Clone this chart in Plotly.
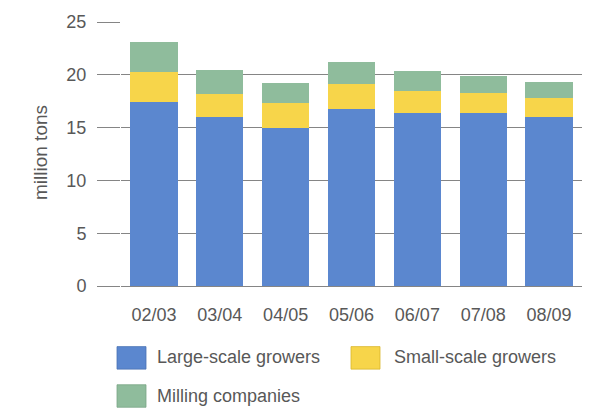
import plotly.graph_objects as go

# Sugar cane production by supplier group, million tons
seasons = ["02/03", "03/04", "04/05", "05/06", "06/07", "07/08", "08/09"]
large_scale = [17.4, 16.0, 15.0, 16.8, 16.4, 16.4, 16.0]
small_scale = [2.9, 2.2, 2.3, 2.35, 2.05, 1.85, 1.8]
milling = [2.85, 2.3, 1.9, 2.05, 1.95, 1.6, 1.55]

series_names = ["Large-scale growers", "Small-scale growers", "Milling companies"]
series_colors = ["#5b87cf", "#f7d54a", "#8fbc9c"]
series_edges = ["#4a72b4", "#d9b62c", "#78a585"]

y_ticks = [0, 5, 10, 15, 20, 25]

W, H = 594, 412
M_L, M_R, M_T, M_B = 121, 12, 16, 126
PW = W - M_L - M_R
PH = H - M_T - M_B
TEXT = "#585858"
FONT = "Liberation Sans, Arial, Helvetica, sans-serif"


def px_x(x):
    return (x - M_L) / PW


def px_y(y):
    return (H - M_B - y) / PH


fig = go.Figure()
for name, vals, col in zip(series_names, [large_scale, small_scale, milling], series_colors):
    fig.add_trace(go.Bar(x=seasons, y=vals, name=name, marker=dict(color=col, line=dict(width=0)),
                         showlegend=False))

fig.update_layout(
    width=W, height=H,
    margin=dict(l=M_L, r=M_R, t=M_T, b=M_B),
    barmode="stack", bargap=0.28,
    plot_bgcolor="white", paper_bgcolor="white",
    font=dict(family=FONT, color=TEXT, size=18),
    xaxis=dict(showgrid=False, showline=False, ticks="", ticklabelstandoff=16,
               tickfont=dict(size=18, color=TEXT), fixedrange=True),
    yaxis=dict(range=[0, 25], tickvals=y_ticks, showgrid=True, gridcolor="#858585", gridwidth=1,
               zeroline=True, zerolinecolor="#858585", zerolinewidth=1, showline=False,
               ticks="outside", ticklen=23, tickcolor="#858585", tickwidth=1,
               ticklabelstandoff=7, tickfont=dict(size=18, color=TEXT), layer="below traces"),
)

# axis title
fig.add_annotation(text="million tons", xref="paper", yref="paper", x=px_x(40), y=px_y(150),
                   textangle=-90, showarrow=False, font=dict(size=19, color=TEXT),
                   xanchor="center", yanchor="middle")

# legend: colour swatches with labels
legend_items = [
    (117, 348, 155, 359, 0),
    (351, 348, 392, 359, 1),
    (117, 387, 155, 398, 2),
]
for sx, sy, tx, ty, i in legend_items:
    fig.add_shape(type="rect", xref="paper", yref="paper",
                  x0=px_x(sx), x1=px_x(sx + 29), y0=px_y(sy), y1=px_y(sy + 23),
                  fillcolor=series_colors[i], line=dict(color=series_edges[i], width=0.8))
    fig.add_annotation(text=series_names[i], xref="paper", yref="paper", x=px_x(tx), y=px_y(ty),
                       xanchor="left", yanchor="middle", showarrow=False,
                       font=dict(size=18, color=TEXT))

fig.write_html("out.html")
